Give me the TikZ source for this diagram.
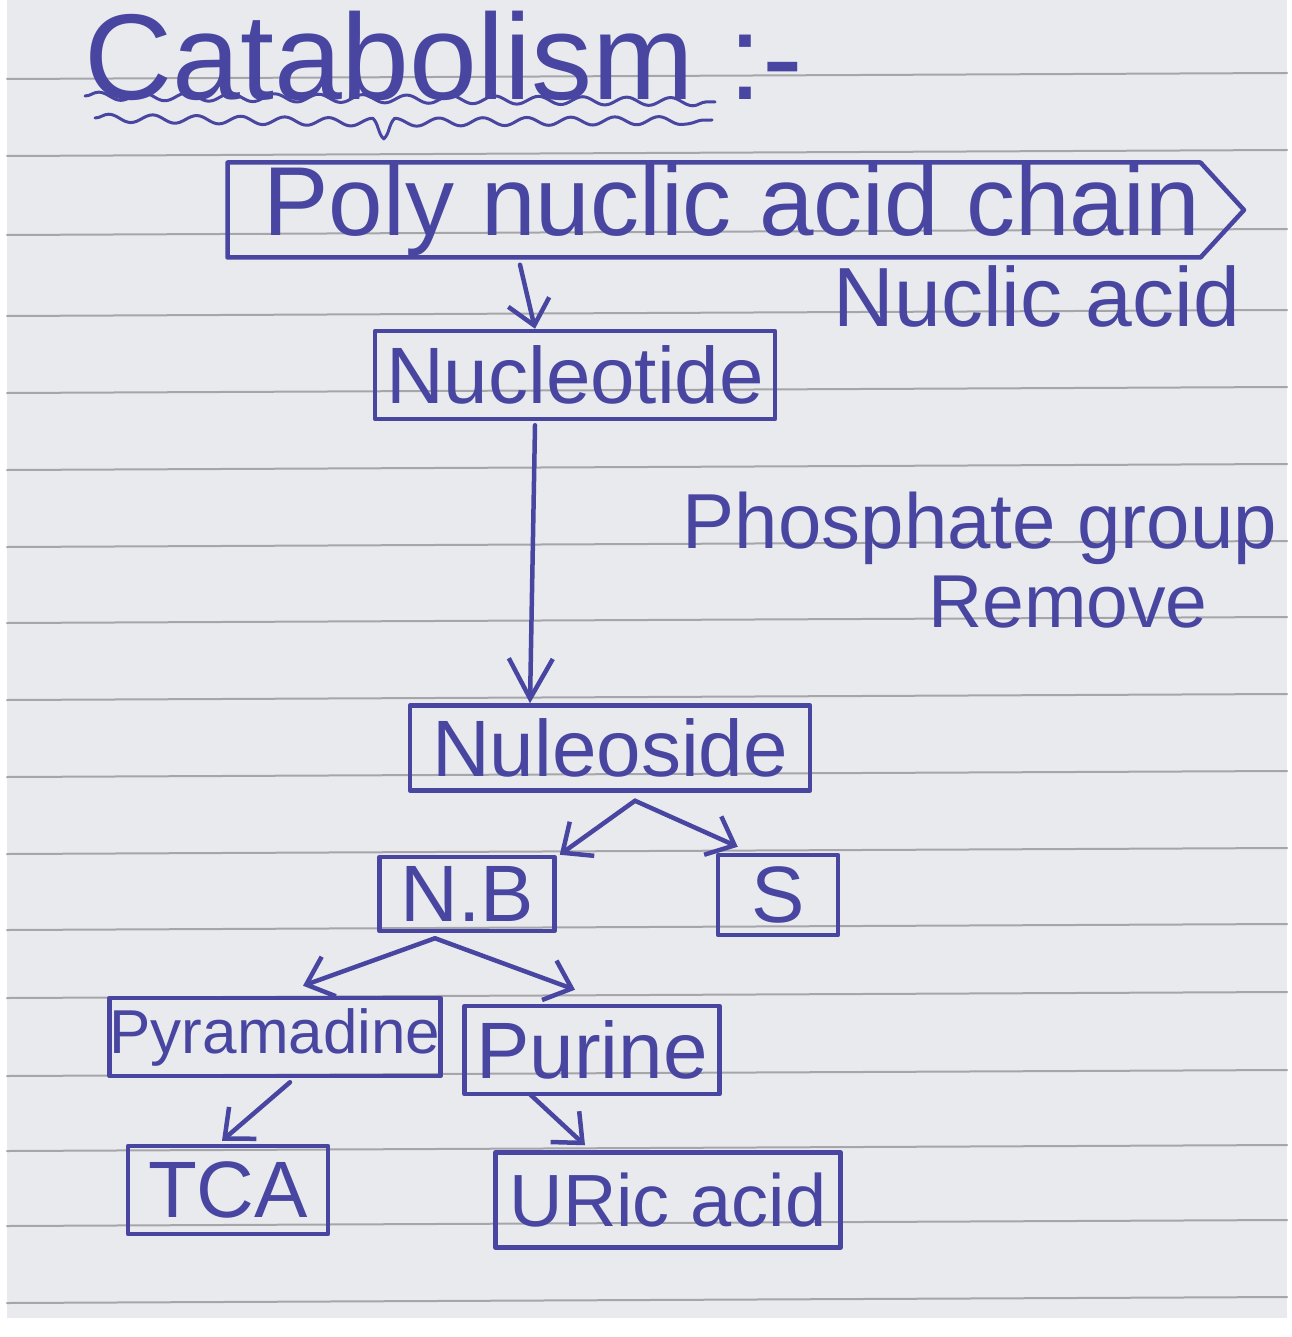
\documentclass[tikz,border=0pt]{standalone}
\usepackage{fontspec}
\setmainfont{Liberation Sans}
\usetikzlibrary{arrows.meta,shapes.symbols,decorations.pathmorphing,calc}
\definecolor{ink}{RGB}{72,70,160}
\definecolor{paper}{RGB}{233,234,238}
\definecolor{rulec}{RGB}{165,165,170}
\begin{document}
\begin{tikzpicture}[x=1pt,y=-1pt,line join=round,line cap=round,
  box/.style={draw=ink,line width=4.5pt,inner sep=0pt,text=ink},
  fs/.style={font=\fontsize{#1}{#1}\selectfont},
  lbl/.style={text=ink,inner sep=0pt},
  arr/.style={draw=ink,line width=4.5pt,-{Straight Barb[length=24pt,width=42pt,line width=4.5pt]}},
  bigarr/.style={draw=ink,line width=4.5pt,-{Straight Barb[length=40pt,width=44pt,line width=4.5pt]}},
  ruling/.style={draw=rulec,line width=2pt},
  wave/.style={draw=ink,line width=3pt,decorate,decoration={snake,amplitude=4pt,segment length=44pt}}]
\useasboundingbox (0,0) rectangle (1291,1337);
\fill[white] (0,0) rectangle (1291,1337);
\fill[paper] (7,0) rectangle (1287,1318);
\foreach \y in {76,153,232,313,390,467,544,620,697,774,851,927,995,1073,1148,1223,1300}
  \draw[ruling] (7,\y+3) -- (1287,\y-3);

% title
\node[lbl,fs=122,anchor=base west] (title) at (84,100) {Catabolism :-};
\draw[wave] (85,96) -- (715,102);
\draw[wave] (95,118) -- (355,122) -- (375,140) -- (395,122) -- (712,120);

% nodes
\node[box,fs=98,shape=signal,signal to=east,signal pointer angle=95,minimum width=995,minimum height=95] (poly) at (714,210) {\hspace*{36pt}Poly nuclic acid chain};
\node[lbl,fs=84] (nacid) at (1037,296) {Nuclic acid};
\node[box,fs=80,minimum width=400,minimum height=88] (nt) at (575,375) {Nucleotide};
\node[lbl,fs=78] (phos) at (980,528) {Phosphate group};
\node[lbl,fs=75] (remove) at (1068,602) {Remove};
\node[box,fs=80,minimum width=400,minimum height=85] (ns) at (610,748) {Nuleoside};
\node[box,fs=80,minimum width=175,minimum height=74] (nb) at (467,894) {N.B};
\node[box,fs=80,minimum width=120,minimum height=80] (s) at (778,895) {S};
\node[box,fs=62,minimum width=330,minimum height=78] (pyr) at (275,1037) {Pyramadine};
\node[box,fs=80,minimum width=255,minimum height=88] (pur) at (592,1050) {Purine};
\node[box,fs=80,minimum width=200,minimum height=88] (tca) at (228,1190) {TCA};
\node[box,fs=74,minimum width=345,minimum height=95] (uric) at (668,1200) {URic acid};

% connectors
\draw[arr] ($(poly.south)+(-194,5)$) -- ($(nt.north)+(-40,0)$);
\draw[bigarr] ($(nt.south)+(-40,4)$) -- ($(ns.north)+(-80,0)$);
\draw[arr] ($(ns.south)+(25,8)$) -- ($(nb.north east)+(3,0)$);
\draw[arr] ($(ns.south)+(25,8)$) -- ($(s.north west)+(22,-6)$);
\draw[arr] ($(nb.south)+(-32,5)$) -- ($(pyr.north)+(28,-10)$);
\draw[arr] ($(nb.south)+(-32,5)$) -- ($(pur.north)+(-17,-14)$);
\draw[arr] ($(pyr.south)+(15,4)$) -- ($(tca.north)+(-6,-3)$);
\draw[arr] ($(pur.south)+(-62,-2)$) -- ($(uric.north)+(-83,-5)$);
\end{tikzpicture}
\end{document}
